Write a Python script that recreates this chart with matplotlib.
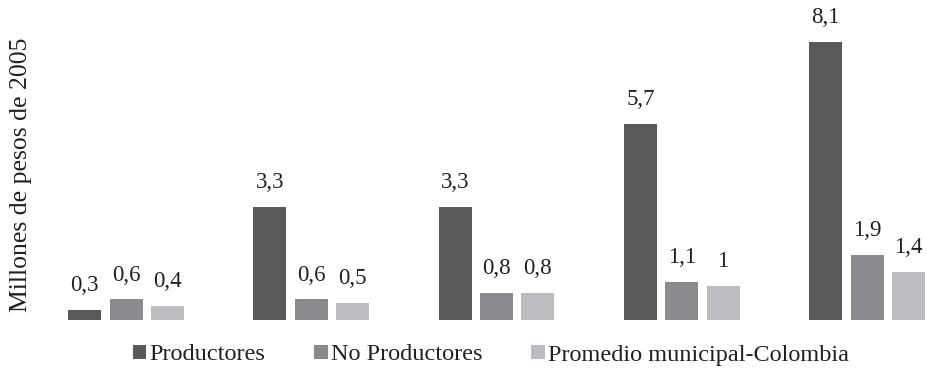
import matplotlib.pyplot as plt
import numpy as np

plt.rcParams['font.family'] = ['Liberation Serif', 'DejaVu Serif']

series_names = ["Productores", "No Productores", "Promedio municipal-Colombia"]
productores = [0.3, 3.3, 3.3, 5.7, 8.1]
no_productores = [0.6, 0.6, 0.8, 1.1, 1.9]
promedio = [0.4, 0.5, 0.8, 1.0, 1.4]
value_labels = [
    ["0,3", "3,3", "3,3", "5,7", "8,1"],
    ["0,6", "0,6", "0,8", "1,1", "1,9"],
    ["0,4", "0,5", "0,8", "1", "1,4"],
]
colors = ["#58595b", "#8a8b8e", "#bcbdc0"]
ylabel = "Millones de pesos de 2005"
text_color = "#231f20"

W, H = 927, 370
fig = plt.figure(figsize=(W / 100, H / 100), dpi=100)
# axes spans full width; baseline sits 50 px from the bottom
ax = fig.add_axes([0, 50 / H, 1, 1 - 50 / H])

px_per_group = 185.25
x0_px = 126
ax.set_xlim(-x0_px / px_per_group, (W - x0_px) / px_per_group)
ax.set_ylim(0, (H - 50) / 34.32)

groups = np.arange(len(productores))
step = 41.3 / px_per_group
width = 33 / px_per_group
all_series = [productores, no_productores, promedio]
for i, (vals, name, c) in enumerate(zip(all_series, series_names, colors)):
    xs = groups + (i - 1) * step
    ax.bar(xs, vals, width=width, color=c, label=name, linewidth=0)
    for x, v, lab in zip(xs, vals, value_labels[i]):
        ax.annotate(lab, (x, v), xytext=(0, 10), textcoords="offset points",
                    ha="center", va="bottom", fontsize=16.5, color=text_color)

ax.axis("off")

fig.text(21 / W, 1 - 175 / H, ylabel, rotation=90, ha="center", va="center",
         fontsize=18.5, color=text_color)

leg = fig.legend(loc="center", bbox_to_anchor=(491 / W, 1 - 355 / H), ncol=3,
                 frameon=False, fontsize=17.5, handlelength=0.55, handleheight=0.55,
                 handletextpad=0.15, columnspacing=2.0, borderaxespad=0)
for t in leg.get_texts():
    t.set_color(text_color)

fig.savefig("out.png", dpi=100)
